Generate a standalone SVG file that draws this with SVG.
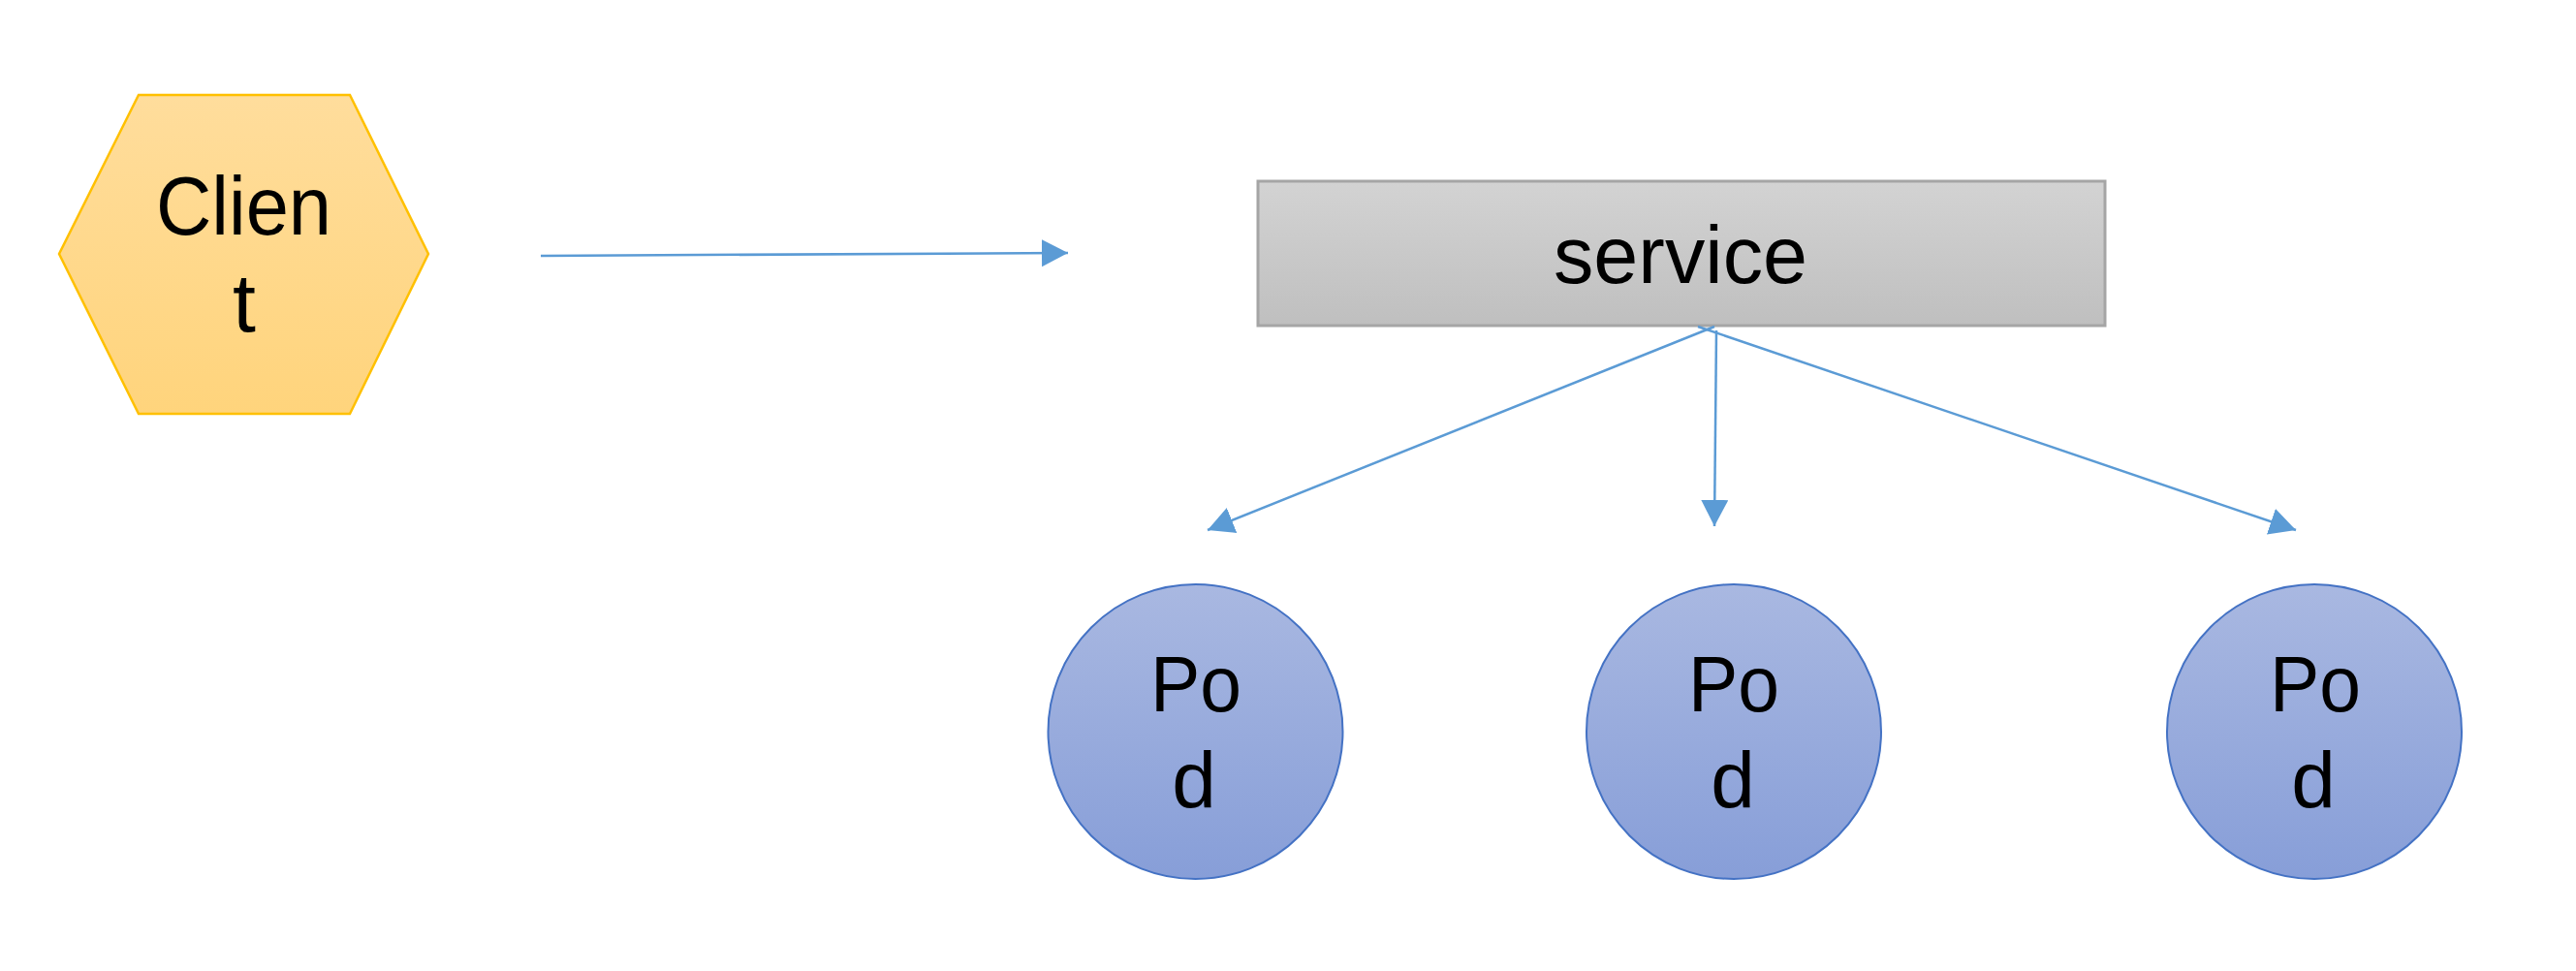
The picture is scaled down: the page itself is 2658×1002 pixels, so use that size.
<svg xmlns="http://www.w3.org/2000/svg" width="2658" height="1002" viewBox="0 0 2658 1002">
<style>
  .lbl { font-family: "Liberation Sans", Arial, sans-serif; fill: #000; text-anchor: middle; }
  .conn { stroke: #5B9BD5; stroke-width: 2.5; fill: none; }
  .pod { fill: url(#gPod); stroke: #4472C4; stroke-width: 2; }
</style>
<defs>
  <linearGradient id="gHex" x1="0" y1="0" x2="0" y2="1">
    <stop offset="0" stop-color="#FFDD9C"/>
    <stop offset="1" stop-color="#FFD47C"/>
  </linearGradient>
  <linearGradient id="gSvc" x1="0" y1="0" x2="0" y2="1">
    <stop offset="0" stop-color="#D3D3D3"/>
    <stop offset="1" stop-color="#BFBFBF"/>
  </linearGradient>
  <linearGradient id="gPod" x1="0" y1="0" x2="0" y2="1">
    <stop offset="0" stop-color="#A9B8E1"/>
    <stop offset="1" stop-color="#879ED8"/>
  </linearGradient>
  <marker id="arr" markerUnits="userSpaceOnUse" markerWidth="30" markerHeight="30" refX="27" refY="14" orient="auto">
    <path d="M0,0 L27,14 L0,28 Z" fill="#5B9BD5"/>
  </marker>
</defs>

<g id="client">
  <polygon points="143,98 361,98 442,262 361,427 143,427 61,262" fill="url(#gHex)" stroke="#FFC000" stroke-width="2.5"/>
  <text class="lbl" x="251.5" y="242" font-size="86" textLength="181" lengthAdjust="spacingAndGlyphs">Clien</text>
  <text class="lbl" x="252" y="342" font-size="86">t</text>
</g>

<g id="service">
  <rect x="1298" y="187" width="874" height="149" fill="url(#gSvc)" stroke="#A5A5A5" stroke-width="3"/>
  <text class="lbl" x="1734" y="292" font-size="84" textLength="262" lengthAdjust="spacingAndGlyphs">service</text>
</g>

<g id="pod1">
  <circle class="pod" cx="1233.5" cy="755" r="152"/>
  <text class="lbl" x="1234" y="734" font-size="82" textLength="94" lengthAdjust="spacingAndGlyphs">Po</text>
  <text class="lbl" x="1232" y="833" font-size="82">d</text>
</g>

<g id="pod2">
  <circle class="pod" cx="1789" cy="755" r="152"/>
  <text class="lbl" x="1789" y="734" font-size="82" textLength="94" lengthAdjust="spacingAndGlyphs">Po</text>
  <text class="lbl" x="1788" y="833" font-size="82">d</text>
</g>

<g id="pod3">
  <circle class="pod" cx="2388" cy="755" r="152"/>
  <text class="lbl" x="2389" y="734" font-size="82" textLength="94" lengthAdjust="spacingAndGlyphs">Po</text>
  <text class="lbl" x="2387" y="833" font-size="82">d</text>
</g>

<g id="connectors">
  <line class="conn" x1="558" y1="264" x2="1102" y2="261" marker-end="url(#arr)"/>
  <line class="conn" x1="1769" y1="337" x2="1246" y2="547" marker-end="url(#arr)"/>
  <line class="conn" x1="1771" y1="341" x2="1769" y2="543" marker-end="url(#arr)"/>
  <line class="conn" x1="1752" y1="337" x2="2369" y2="547" marker-end="url(#arr)"/>
</g>
</svg>
